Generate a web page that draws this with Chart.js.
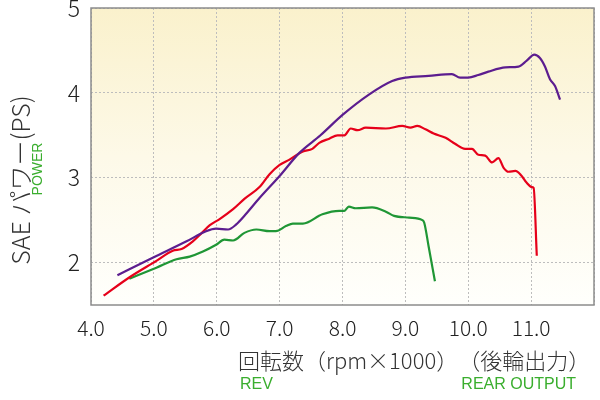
<!DOCTYPE html>
<html>
<head>
<meta charset="utf-8">
<script src="https://cdn.jsdelivr.net/npm/chart.js@4/dist/chart.umd.min.js"></script>
<style>
  html, body { margin: 0; padding: 0; background: #fff; }
  #wrap { width: 600px; height: 400px; position: relative; }
</style>
</head>
<body>
<div id="wrap"><canvas id="chartjs-power" width="600" height="400"></canvas></div>
<script>
// rpm (x1000) / SAE power (PS)
var purpleRpm = [4.42, 4.99, 5.52, 5.83, 5.99, 6.18, 6.31, 6.45, 6.68, 7.0, 7.31, 7.65, 8.0, 8.42, 8.79, 9.0, 9.37, 9.74, 9.87, 10.0, 10.16, 10.32, 10.59, 10.80, 10.93, 11.05, 11.14, 11.22, 11.30, 11.38, 11.46];
var purplePs  = [1.85, 2.06, 2.25, 2.37, 2.40, 2.39, 2.45, 2.56, 2.76, 3.02, 3.29, 3.50, 3.74, 3.98, 4.14, 4.18, 4.20, 4.22, 4.18, 4.18, 4.21, 4.25, 4.30, 4.31, 4.38, 4.45, 4.41, 4.31, 4.16, 4.08, 3.92];

var redRpm = [4.20, 4.62, 5.04, 5.30, 5.44, 5.62, 5.75, 5.89, 6.04, 6.26, 6.44, 6.68, 6.84, 7.0, 7.15, 7.37, 7.52, 7.63, 7.79, 7.92, 8.03, 8.13, 8.24, 8.37, 8.69, 8.95, 9.08, 9.19, 9.32, 9.45, 9.64, 9.79, 9.95, 10.06, 10.16, 10.27, 10.38, 10.48, 10.56, 10.64, 10.75, 10.84, 10.93, 11.01, 11.04, 11.09];
var redPs  = [1.61, 1.83, 2.02, 2.14, 2.16, 2.25, 2.34, 2.44, 2.51, 2.63, 2.75, 2.89, 3.04, 3.15, 3.21, 3.31, 3.34, 3.41, 3.46, 3.50, 3.50, 3.58, 3.56, 3.59, 3.58, 3.61, 3.59, 3.61, 3.57, 3.52, 3.47, 3.40, 3.34, 3.34, 3.27, 3.26, 3.18, 3.23, 3.12, 3.07, 3.08, 3.03, 2.94, 2.89, 2.88, 2.08];

var greenRpm = [4.61, 5.04, 5.36, 5.57, 5.78, 5.99, 6.12, 6.26, 6.44, 6.63, 6.84, 6.94, 7.10, 7.21, 7.37, 7.68, 7.95, 8.03, 8.10, 8.21, 8.47, 8.69, 8.82, 9.06, 9.27, 9.30, 9.37, 9.47];
var greenPs  = [1.81, 1.94, 2.04, 2.07, 2.13, 2.21, 2.27, 2.26, 2.35, 2.39, 2.37, 2.37, 2.43, 2.46, 2.46, 2.57, 2.61, 2.61, 2.66, 2.64, 2.65, 2.60, 2.55, 2.53, 2.50, 2.47, 2.19, 1.78];

var xTicks = [4, 5, 6, 7, 8, 9, 10, 11, 12];
var yTicks = [2, 3, 4, 5];

function toPoints(xs, ys) {
    var pts = [];
    for (var i = 0; i < xs.length; i++) {
        pts.push({x: xs[i], y: ys[i]});
    }
    return pts;
}

var tickFont = "'Noto Sans CJK JP', 'Noto Sans', sans-serif";

// background + frame + axis titles
var decor = {
    id: 'decor',
    beforeDraw: function (chart) {
        var ctx = chart.ctx, a = chart.chartArea;
        ctx.save();
        var g = ctx.createLinearGradient(0, a.top, 0, a.bottom);
        g.addColorStop(0, '#faf1cc');
        g.addColorStop(0.5, '#fdf9e8');
        g.addColorStop(1, '#fffffc');
        ctx.fillStyle = g;
        ctx.fillRect(a.left, a.top, a.right - a.left, a.bottom - a.top);
        ctx.restore();
    },
    afterDraw: function (chart) {
        var ctx = chart.ctx, a = chart.chartArea;
        ctx.save();
        ctx.strokeStyle = '#8c8c8c';
        ctx.lineWidth = 1.5;
        ctx.strokeRect(a.left, a.top, a.right - a.left, a.bottom - a.top);

        // y title
        ctx.translate(20, 180);
        ctx.rotate(-Math.PI / 2);
        ctx.textAlign = 'center';
        ctx.textBaseline = 'middle';
        ctx.fillStyle = '#333';
        ctx.font = "300 25px " + tickFont;
        ctx.fillText('SAE パワー(PS)', 0, 0);
        ctx.fillStyle = '#3aae2e';
        ctx.font = "14px 'Liberation Sans', Arial, sans-serif";
        ctx.fillText('POWER', 11, 18);
        ctx.restore();

        // x title
        ctx.save();
        ctx.textBaseline = 'middle';
        ctx.fillStyle = '#333';
        ctx.font = "300 22px " + tickFont;
        ctx.textAlign = 'left';
        ctx.fillText('回転数（rpm×1000）　（後輪出力）', 238, 361);
        ctx.fillStyle = '#3aae2e';
        ctx.font = "16px 'Liberation Sans', Arial, sans-serif";
        ctx.fillText('REV', 240, 385);
        ctx.textAlign = 'right';
        ctx.fillText('REAR OUTPUT', 576, 385);
        ctx.restore();
    }
};

var ctx = document.getElementById('chartjs-power').getContext('2d');
new Chart(ctx, {
    type: 'line',
    data: {
        datasets: [
            {label: 'purple', data: toPoints(purpleRpm, purplePs), borderColor: '#5c1d8f', borderWidth: 2.2},
            {label: 'red', data: toPoints(redRpm, redPs), borderColor: '#e6001a', borderWidth: 2.2},
            {label: 'green', data: toPoints(greenRpm, greenPs), borderColor: '#1f9635', borderWidth: 2.2}
        ]
    },
    options: {
        responsive: false,
        animation: false,
        devicePixelRatio: 1,
        layout: {padding: {left: 0, top: 8, right: 6, bottom: 0}},
        elements: {
            point: {radius: 0},
            line: {cubicInterpolationMode: 'monotone', fill: false}
        },
        plugins: {legend: {display: false}, tooltip: {enabled: false}},
        scales: {
            x: {
                type: 'linear',
                min: 4,
                max: 12,
                afterBuildTicks: function (s) { s.ticks = xTicks.map(function (v) { return {value: v}; }); },
                afterFit: function (s) { s.height = 95; s.paddingLeft = 0; s.paddingRight = 0; },
                ticks: {
                    padding: 10,
                    color: '#222',
                    font: {family: tickFont, size: 21, weight: '300'},
                    maxRotation: 0,
                    autoSkip: false,
                    callback: function (v) { return v >= 12 ? '' : v.toFixed(1); }
                },
                grid: {color: '#bdbdbd', lineWidth: 1, drawTicks: false},
                border: {display: false, dash: [2, 2]}
            },
            y: {
                type: 'linear',
                min: 1.5,
                max: 5,
                afterBuildTicks: function (s) { s.ticks = yTicks.map(function (v) { return {value: v}; }); },
                afterFit: function (s) { s.width = 91; s.paddingTop = 0; s.paddingBottom = 0; },
                ticks: {
                    padding: 11,
                    color: '#222',
                    font: {family: tickFont, size: 23, weight: '300'}
                },
                grid: {color: '#bdbdbd', lineWidth: 1, drawTicks: false},
                border: {display: false, dash: [2, 2]}
            }
        }
    },
    plugins: [decor]
});
</script>
</body>
</html>
